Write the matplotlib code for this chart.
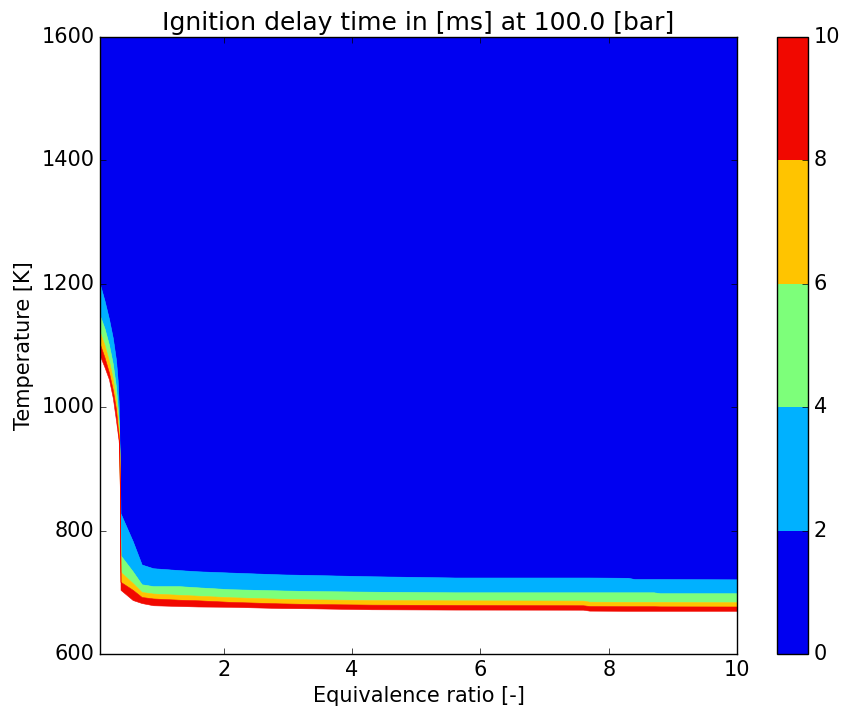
import matplotlib
matplotlib.use('Agg')
import matplotlib.pyplot as plt
from matplotlib.colors import ListedColormap, BoundaryNorm
from matplotlib.cm import ScalarMappable

plt.style.use('classic')
plt.rcParams['figure.facecolor'] = 'white'
plt.rcParams['savefig.facecolor'] = 'white'

# contour levels of ignition delay time [ms]
levels = [0, 2, 4, 6, 8, 10]

# equivalence ratio points where the contour boundaries were read
phi = [0.07, 0.14, 0.21, 0.27, 0.32, 0.345, 0.36, 0.37, 0.38, 0.39, 0.58, 0.72,
       0.9, 1.3, 1.6, 2.1, 2.9, 3.4, 4.3, 5.6, 7.6, 7.7, 8.3, 8.4, 8.7, 8.8, 10.0]

# temperature [K] of each iso-delay line (tau = 2, 4, 6, 8, 10 ms)
T_2 = [1199, 1173, 1143, 1112, 1076, 1044, 1010, 960, 900, 828, 783, 745,
       739, 736, 734, 732, 729, 728, 726, 724, 724, 724, 723.5, 721.5, 721.5, 721.5, 721]
T_4 = [1148, 1128, 1101, 1070, 1032, 1000, 978, 945, 880, 760, 734, 713,
       710, 710, 708, 705, 703, 702, 701, 700, 700, 700, 700, 700, 700, 698.5, 698.5]
T_6 = [1121, 1101, 1075, 1046, 1010, 985, 966, 940, 870, 733, 715, 700.5,
       698, 696, 694.5, 692, 689.5, 688.5, 687.5, 687, 686.5, 684.8, 684.5, 684.5, 684.5, 684.5, 684]
T_8 = [1102, 1081, 1056, 1028, 996, 968, 955, 935, 862, 717, 704, 692.4,
       690, 688, 687, 684.5, 682, 681, 680, 679.5, 679, 677.8, 677.5, 677.5, 677.5, 677.2, 677]
T_10 = [1083, 1065, 1045, 1015, 978, 958, 946, 930, 858, 704, 687.5, 682.6,
        679, 677.8, 677, 676.5, 674.5, 674, 672.5, 672, 671.8, 670.3, 670, 670, 670, 670, 670]

T_min, T_max = 600, 1600

jet = plt.get_cmap('jet')
colors = [jet((levels[i] + levels[i + 1]) / 2 / levels[-1]) for i in range(len(levels) - 1)]

fig = plt.figure(figsize=(8.42, 7.11), dpi=100)
ax = fig.add_axes([100 / 842, 57 / 711, 637 / 842, 617 / 711])
cax = fig.add_axes([777 / 842, 57 / 711, 31 / 842, 617 / 711])

# fill bands between neighbouring iso-delay lines
tops = [[T_max] * len(phi), T_2, T_4, T_6, T_8]
bottoms = [T_2, T_4, T_6, T_8, T_10]
for top, bot, c in zip(tops, bottoms, colors):
    ax.fill_between(phi, bot, top, facecolor=c, edgecolor=c, linewidth=0.4)

ax.set_xlim(phi[0], phi[-1])
ax.set_ylim(T_min, T_max)
ax.set_xticks([2, 4, 6, 8, 10])
ax.set_yticks([600, 800, 1000, 1200, 1400, 1600])
ax.tick_params(labelsize=15)
ax.set_xlabel('Equivalence ratio [-]', fontsize=15)
ax.set_ylabel('Temperature [K]', fontsize=15)
ax.set_title('Ignition delay time in [ms] at 100.0 [bar]', fontsize=18)

sm = ScalarMappable(norm=BoundaryNorm(levels, len(levels) - 1), cmap=ListedColormap(colors))
cb = fig.colorbar(sm, cax=cax, ticks=levels)
cb.ax.tick_params(labelsize=15)

fig.savefig('out.png', dpi=100)
